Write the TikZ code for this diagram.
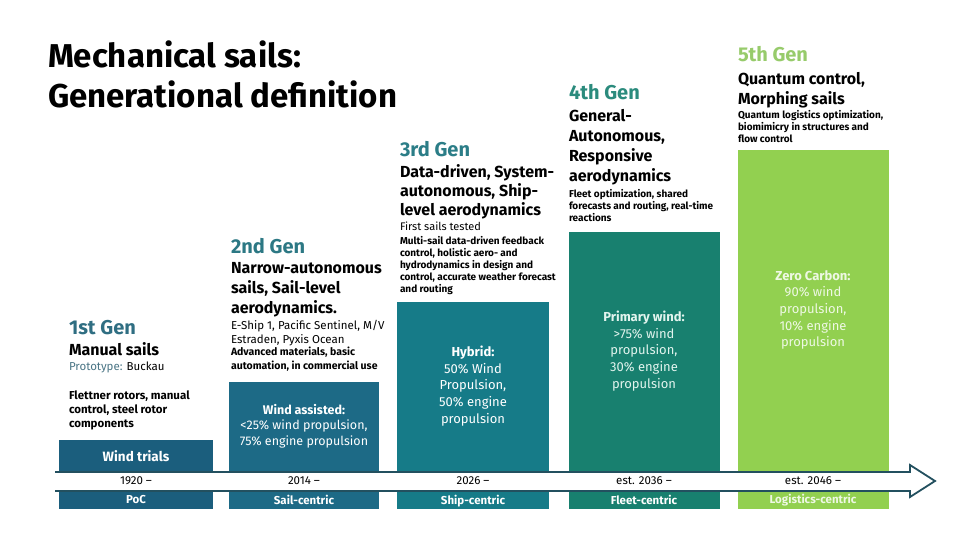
\documentclass[tikz,border=0pt]{standalone}
\usepackage{fontspec}
\setmainfont{Fira Sans}
\definecolor{boxA}{HTML}{1B5E7D}
\definecolor{boxB}{HTML}{1D6A86}
\definecolor{boxC}{HTML}{167B88}
\definecolor{boxD}{HTML}{18806F}
\definecolor{boxE}{HTML}{92D050}
\definecolor{genA}{HTML}{2F6E82}
\definecolor{genB}{HTML}{2C7884}
\definecolor{genC}{HTML}{2B7D87}
\definecolor{genD}{HTML}{2B8B7D}
\definecolor{genE}{HTML}{97CB6B}
\definecolor{protoC}{HTML}{4A7585}
\definecolor{arrowC}{HTML}{23505F}
\definecolor{txtD}{HTML}{E2F4EE}
\definecolor{txtE}{HTML}{EEF8E4}
\begin{document}
\begin{tikzpicture}[x=1pt,y=-1pt,
  every node/.style={inner sep=0pt,outer sep=0pt},
  titletext/.style={anchor=north west,align=left,font=\fontsize{33}{40}\selectfont\bfseries},
  genlabel/.style={anchor=north west,font=\fontsize{20}{22}\selectfont\bfseries},
  gentitle/.style={anchor=north west,align=left,font=\fontsize{16}{20}\selectfont\bfseries},
  plaintext/.style={anchor=north west,align=left,font=\fontsize{11.5}{14}\selectfont},
  smallbold/.style={anchor=north west,align=left,font=\fontsize{10}{12}\selectfont\bfseries},
  colbox/.style={anchor=north west,minimum width=154pt,draw=none},
  boxtext/.style={align=center,text=white,font=\fontsize{13}{16.7}\selectfont},
  datetext/.style={font=\fontsize{11.5}{12}\selectfont},
  phasetext/.style={text=white,font=\fontsize{11.5}{12}\selectfont\bfseries}
]
\useasboundingbox[fill=white] (0,0) rectangle (960,540);

% title
\node[titletext] (title) at (48,41) {Mechanical sails:\\Generational definition};

% column boxes
\node[colbox,fill=boxA,minimum height=69pt] (b1) at (59,440) {};
\node[colbox,fill=boxB,minimum height=127pt,minimum width=150pt] (b2) at (229,382) {};
\node[colbox,fill=boxC,minimum height=207pt,minimum width=152pt] (b3) at (397,302) {};
\node[colbox,fill=boxD,minimum height=277pt,minimum width=151pt] (b4) at (569,232) {};
\node[colbox,fill=boxE,minimum height=359pt,minimum width=151pt] (b5) at (738,150) {};

% arrow
\draw[draw=arrowC,line width=1.8pt,fill=white,line join=miter]
  (55,472) -- (910,472) -- (910,465) -- (935,481) -- (910,497) -- (910,491) -- (55,491);

% column 1
\node[genlabel,text=genA] (g1) at (69,320) {1st Gen};
\node[gentitle] (t1) at (69,343) {Manual sails};
\node[plaintext] (p1) at (69,362) {\textcolor{protoC}{Prototype:} Buckau};
\node[smallbold,font=\fontsize{11.5}{14}\selectfont\bfseries] (s1) at (69,391) {Flettner rotors, manual\\control, steel rotor\\components};
\node[boxtext,font=\fontsize{13.5}{16}\selectfont\bfseries] (w1) at (136,456) {Wind trials};
\node[datetext] (d1) at (136,481) {1920 –};
\node[phasetext] (f1) at (136,500) {PoC};

% column 2
\node[genlabel,text=genB] (g2) at (231,238) {2nd Gen};
\node[gentitle] (t2) at (231,262) {Narrow-autonomous\\sails, Sail-level\\aerodynamics.};
\node[plaintext] (p2) at (231,320) {E-Ship 1, Pacific Sentinel, M/V\\Estraden, Pyxis Ocean};
\node[smallbold,font=\fontsize{10.5}{13.5}\selectfont\bfseries] (s2) at (231,347) {Advanced materials, basic\\automation, in commercial use};
\node[boxtext,font=\fontsize{12.5}{15.5}\selectfont] (w2) at (304,426) {\textbf{Wind assisted:}\\<25\% wind propulsion,\\75\% engine propulsion};
\node[datetext] (d2) at (304,481) {2014 –};
\node[phasetext] (f2) at (304,500) {Sail-centric};

% column 3
\node[genlabel,text=genC] (g3) at (400,141) {3rd Gen};
\node[gentitle,font=\fontsize{16}{19}\selectfont\bfseries] (t3) at (400,165) {Data-driven, System-\\autonomous, Ship-\\level aerodynamics};
\node[plaintext,font=\fontsize{11}{14}\selectfont] (p3) at (400,222) {First sails tested};
\node[smallbold] (s3) at (400,236) {Multi-sail data-driven feedback\\control, holistic aero- and\\hydrodynamics in design and\\control, accurate weather forecast\\and routing};
\node[boxtext] (w3) at (473,386) {\textbf{Hybrid:}\\50\% Wind\\Propulsion,\\50\% engine\\propulsion};
\node[datetext] (d3) at (473,481) {2026 –};
\node[phasetext] (f3) at (473,501) {Ship-centric};

% column 4
\node[genlabel,text=genD] (g4) at (569,84) {4th Gen};
\node[gentitle] (t4) at (569,109) {General-\\Autonomous,\\Responsive\\aerodynamics};
\node[smallbold] (s4) at (569,189) {Fleet optimization, shared\\forecasts and routing, real-time\\reactions};
\node[boxtext,text=txtD] (w4) at (644,351) {\textbf{Primary wind:}\\>75\% wind\\propulsion,\\30\% engine\\propulsion};
\node[datetext] (d4) at (644,481) {est. 2036 –};
\node[phasetext] (f4) at (644,500) {Fleet-centric};

% column 5
\node[genlabel,text=genE] (g5) at (738,46) {5th Gen};
\node[gentitle] (t5) at (738,72) {Quantum control,\\Morphing sails};
\node[smallbold] (s5) at (738,110) {Quantum logistics optimization,\\biomimicry in structures and\\flow control};
\node[boxtext,text=txtE] (w5) at (813,310) {\textbf{Zero Carbon:}\\90\% wind\\propulsion,\\10\% engine\\propulsion};
\node[datetext] (d5) at (813,481) {est. 2046 –};
\node[phasetext,text=txtE] (f5) at (813,500) {Logistics-centric};
\end{tikzpicture}
\end{document}
